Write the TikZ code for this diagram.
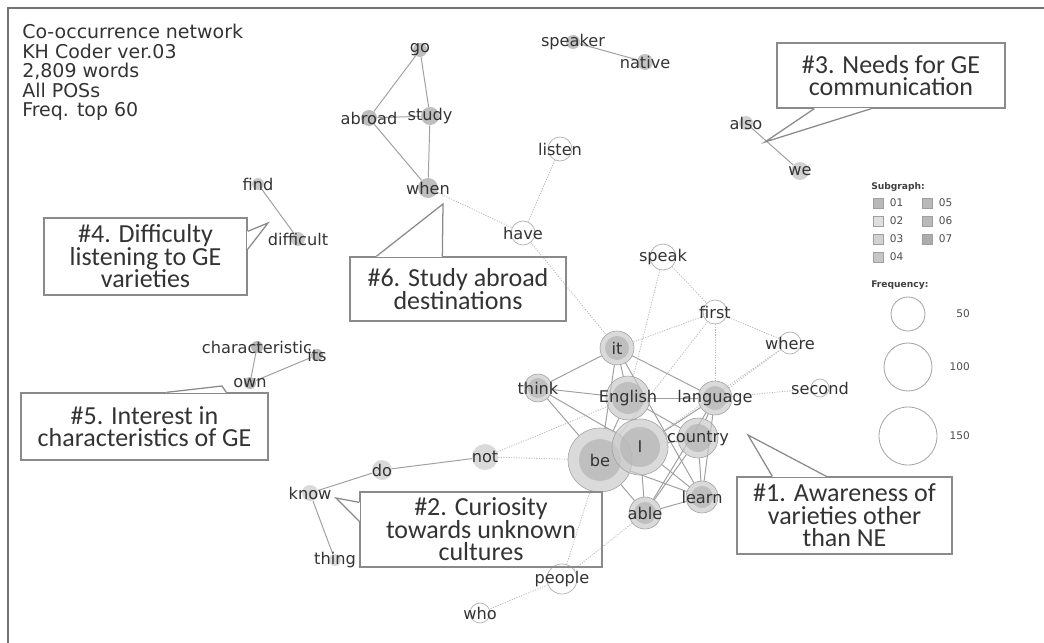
\documentclass[tikz,border=0pt]{standalone}
\usepackage{fontspec}
\setmainfont{DejaVu Sans}
\newfontfamily\calloutfont{Carlito}
\usepackage{tikz}
\usetikzlibrary{calc,positioning,backgrounds}
\definecolor{ink}{HTML}{333333}
\definecolor{edgegray}{HTML}{A0A0A0}
\definecolor{dotgray}{HTML}{B8B8B8}
\definecolor{boxgray}{HTML}{8A8A8A}
\definecolor{sgcore}{HTML}{CACACA}
\definecolor{sgcorein}{HTML}{B4B4B4}
\definecolor{sgtwo}{HTML}{DADADA}
\definecolor{sgthree}{HTML}{D2D2D2}
\definecolor{sgfour}{HTML}{C8C8C8}
\definecolor{sgfive}{HTML}{C2C2C2}
\definecolor{sgsix}{HTML}{BEBEBE}
\definecolor{sgseven}{HTML}{B8B8B8}
\tikzset{
  % words
  wlbl/.style={font=\fontsize{11.5}{12}\selectfont,text=ink,inner sep=0pt},
  wd/.style 2 args={circle,inner sep=0pt,minimum size=#1,label={[wlbl]center:#2}},
  hub/.style={fill=sgcore,draw=gray!75,line width=0.4pt,fill opacity=0.7,
    path picture={\fill[sgcorein] (path picture bounding box.center) circle (#1);}},
  sub/.style={fill=#1,draw=none},
  lone/.style={fill=white,draw=gray!60,line width=0.5pt},
  se/.style={draw=edgegray,line width=0.7pt},
  de/.style={draw=dotgray,line width=0.6pt,dash pattern=on 0.8pt off 1pt},
  % callouts
  callout/.style={draw=boxgray,line width=0.9pt,align=center,inner sep=0pt,text=ink,
    font=\calloutfont\fontsize{18.5}{16}\selectfont},
  ptr/.style={draw=boxgray,line width=0.9pt,line join=miter},
  % legend
  lgtitle/.style={font=\bfseries\fontsize{6.5}{7}\selectfont,text=black!75,anchor=west,inner sep=0pt},
  lgtxt/.style={font=\fontsize{7.5}{8}\selectfont,text=black!70,inner sep=0pt},
  sqbox/.style={draw=gray!75,line width=0.4pt,minimum size=2.5mm,inner sep=0pt},
  freq/.style={circle,draw=gray!70,line width=0.6pt,inner sep=0pt},
}
\begin{document}
\begin{tikzpicture}[x=0.025cm,y=-0.025cm]
  \useasboundingbox (0,0) rectangle (1044,643);
  \draw[black!55,line width=1pt] (8,643) -- (8,8) -- (1044,8);
  \node[anchor=north west,align=left,inner sep=0pt,text=ink,
    font=\fontsize{13.5}{13.9}\selectfont] (hdr) at (22,24)
    {Co-occurrence network\\KH Coder ver.03\\2,809 words\\All POSs\\Freq. top 60};

  % subgraph 01
  \node[hub=3mm,wd={8.5mm}{it}] (it) at (617,348) {};
  \node[hub=2.5mm,wd={7mm}{think}] (think) at (538,388) {};
  \node[hub=4mm,wd={11mm}{English}] (english) at (628,398) {};
  \node[hub=3mm,wd={8.5mm}{language}] (language) at (715,398) {};
  \node[hub=3.5mm,wd={10mm}{country}] (country) at (698,438) {};
  \node[hub=5.25mm,wd={16mm}{be}] (be) at (600,460) {};
  \node[hub=5mm,wd={14mm}{I}] (I) at (640,447) {};
  \node[hub=2.75mm,wd={8mm}{learn}] (learn) at (702,497) {};
  \node[hub=2.75mm,wd={8mm}{able}] (able) at (645,513) {};
  % other subgraphs
  \node[sub=sgtwo,wd={6.5mm}{not}] (not) at (485,457) {};
  \node[sub=sgtwo,wd={5mm}{do}] (do) at (382,470) {};
  \node[sub=sgtwo,wd={4mm}{know}] (know) at (310,493) {};
  \node[sub=sgtwo,wd={3mm}{thing}] (thing) at (335,560) {};
  \node[sub=sgsix,wd={3.5mm}{go}] (go) at (420,50) {};
  \node[sub=sgsix,wd={4mm}{abroad}] (abroad) at (369,118) {};
  \node[sub=sgsix,wd={4.5mm}{study}] (study) at (430,116) {};
  \node[sub=sgsix,wd={5mm}{when}] (when) at (428,188) {};
  \node[sub=sgfive,wd={3.5mm}{speaker}] (speaker) at (573,42) {};
  \node[sub=sgfive,wd={4mm}{native}] (native) at (645,62) {};
  \node[sub=sgthree,wd={3.5mm}{also}] (also) at (746,123) {};
  \node[sub=sgthree,wd={4.5mm}{we}] (we) at (800,171) {};
  \node[sub=sgfour,wd={3mm}{find}] (find) at (258,184) {};
  \node[sub=sgfour,wd={3.5mm}{difficult}] (difficult) at (298,239) {};
  \node[sub=sgseven,wd={3mm}{characteristic}] (charac) at (257,347) {};
  \node[sub=sgseven,wd={3mm}{its}] (its) at (317,355) {};
  \node[sub=sgseven,wd={3mm}{own}] (own) at (250,383) {};
  % no subgraph
  \node[lone,wd={6mm}{listen}] (listen) at (560,149) {};
  \node[lone,wd={6mm}{have}] (have) at (523,233) {};
  \node[lone,wd={6.5mm}{speak}] (speak) at (663,257) {};
  \node[lone,wd={6mm}{first}] (first) at (715,312) {};
  \node[lone,wd={5.5mm}{where}] (where) at (790,343) {};
  \node[lone,wd={4.5mm}{second}] (second) at (820,388) {};
  \node[lone,wd={7.5mm}{people}] (people) at (562,579) {};
  \node[lone,wd={5mm}{who}] (who) at (480,613) {};

  \begin{scope}[on background layer]
    \foreach \a/\b in {go/abroad,go/study,abroad/study,abroad/when,study/when,
      speaker/native,also/we,find/difficult,charac/own,own/its,not/do,do/know,know/thing,
      it/think,it/english,it/be,it/language,it/learn,think/english,think/be,think/I,
      english/language,english/I,english/be,english/country,language/I,language/able,
      language/country,language/learn,country/learn,country/able,country/I,
      I/learn,I/able,be/able,be/learn,able/learn}
      \draw[se] (\a) -- (\b);
    \foreach \a/\b in {when/have,have/listen,have/it,speak/english,speak/first,first/it,
      first/language,first/be,first/where,where/language,where/I,second/language,
      not/be,not/english,be/people,able/people,people/who}
      \draw[de] (\a) -- (\b);
  \end{scope}

  % callouts
  \node[callout,minimum width=5.7cm,minimum height=1.625cm] (c3) at (891,75.5)
    {\#3. Needs for GE\\communication};
  \node[callout,minimum width=5.075cm,minimum height=1.925cm] (c4) at (145.5,256.5)
    {\#4. Difficulty\\listening to GE\\varieties};
  \node[callout,minimum width=5.4cm,minimum height=1.6cm] (c6) at (458,289)
    {\#6. Study abroad\\destinations};
  \node[callout,minimum width=6.175cm,minimum height=1.675cm] (c5) at (144.5,426.5)
    {\#5. Interest in\\characteristics of GE};
  \node[callout,minimum width=6.05cm,minimum height=1.875cm] (c2) at (481,529.5)
    {\#2. Curiosity\\towards unknown\\cultures};
  \node[callout,minimum width=5.375cm,minimum height=1.925cm] (c1) at (844.5,515.5)
    {\#1. Awareness of\\varieties other\\than NE};
  \coordinate (t3) at (765,142);
  \coordinate (t4) at (268,223);
  \coordinate (t6) at (443,204);
  \coordinate (t5) at (222,386);
  \coordinate (t2) at (336,498);
  \coordinate (t1) at (748,435);
  \foreach \c/\t/\an/\px/\py/\qx/\qy in {c3/t3/south west/38/0/95/0,c4/t4/north east/0/14/0/32,
      c6/t6/north west/27/0/93/0,c5/t5/north west/146/0/206/0,c2/t2/north west/0/11/0/30,
      c1/t1/north west/36/0/90/0} {
    \coordinate (p) at ($(\c.\an)+(\px,\py)$);
    \coordinate (q) at ($(\c.\an)+(\qx,\qy)$);
    \draw[white,line width=1.4pt] (p) -- (q);
    \draw[ptr] (p) -- (\t) -- (q);
  }

  % legend
  \node[lgtitle] (lgsub) at (871,187) {Subgraph:};
  \foreach \k/\col/\xx/\yy in {01/gray!55/878/203,02/gray!25/878/221,03/gray!35/878/239,
      04/gray!45/878/257,05/gray!55/927/203,06/gray!55/927/221,07/gray!65/927/239}{
    \node[sqbox,fill=\col] (sq\k) at (\xx,\yy) {};
    \node[lgtxt,right=1.6mm of sq\k] {\k};
  }
  \node[lgtitle] (lgfreq) at (871,285) {Frequency:};
  \node[freq,minimum size=8.5mm] (f50) at (908,314) {};
  \node[freq,minimum size=12mm] (f100) at (908,367) {};
  \node[freq,minimum size=14.5mm] (f150) at (908,436) {};
  \node[lgtxt,anchor=east] at (970,314) {50};
  \node[lgtxt,anchor=east] at (970,367) {100};
  \node[lgtxt,anchor=east] at (970,436) {150};
\end{tikzpicture}
\end{document}
